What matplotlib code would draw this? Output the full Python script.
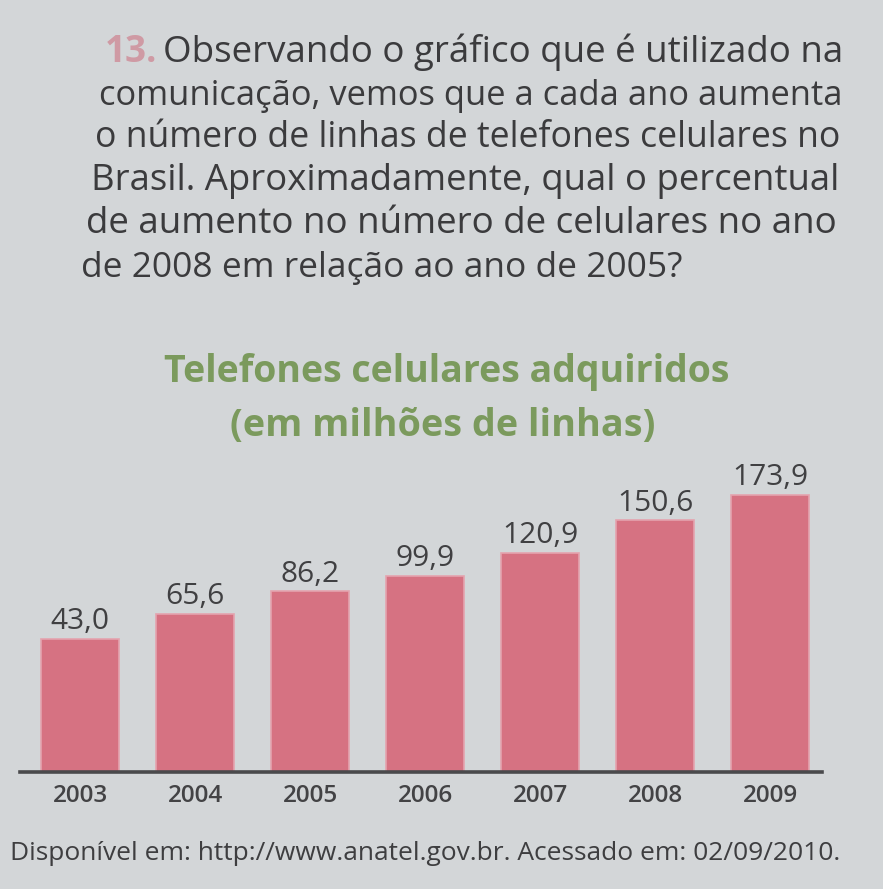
import matplotlib

matplotlib.use("Agg")
import matplotlib.pyplot as plt
import numpy as np

# data
years = ["2003", "2004", "2005", "2006", "2007", "2008", "2009"]
values = [43.0, 65.6, 86.2, 99.9, 120.9, 150.6, 173.9]

question_number = "13."
question_lines = [
    "Observando o gráfico que é utilizado na",
    "comunicação, vemos que a cada ano aumenta",
    "o número de linhas de telefones celulares no",
    "Brasil. Aproximadamente, qual o percentual",
    "de aumento no número de celulares no ano",
    "de 2008 em relação ao ano de 2005?",
]
title_lines = ["Telefones celulares adquiridos", "(em milhões de linhas)"]
source_head = "Disponível em: http://www.anatel.gov.br."
source_tail = " Acessado em: 02/09/2010."

# layout (pixels, origin top-left)
W, H = 883, 889
BG = "#d3d6d8"
TEXT = "#3b3b3d"
PINK = "#d67282"
GREEN = "#7b9a5d"
FONT = ["Open Sans", "DejaVu Sans"]
BAR_BASE = -78  # bars in the source are not drawn from zero

# (left, right, baseline) for each question line
q_pos = [(163, 843, 62), (99, 843, 105), (95, 842, 147),
         (91, 838, 190), (86, 837, 233), (81, 683, 277)]


def fx(x):
    return x / W


def fy(y):
    return 1 - y / H


fig = plt.figure(figsize=(W / 100, H / 100), dpi=100, facecolor=BG)
renderer = fig.canvas.get_renderer()


def fit_width(t, target):
    for _ in range(3):
        w = t.get_window_extent(renderer).width
        t.set_fontsize(t.get_fontsize() * target / w)
    return t.get_fontsize()


# question text
sizes = []
for line, (left, right, base) in zip(question_lines, q_pos):
    t = fig.text(fx(left), fy(base), line, family=FONT, fontsize=22,
                 color=TEXT, va="baseline", ha="left")
    sizes.append(fit_width(t, right - left))
fig.text(fx(105), fy(62), question_number, family=FONT, fontsize=sizes[0],
         fontweight="bold", color="#cf9aa4", va="baseline", ha="left")

# title
for line, (cx, base, width) in zip(title_lines,
                                   [(447, 382, 566), (443, 436, 425)]):
    t = fig.text(fx(cx), fy(base), line, family=FONT, fontsize=20,
                 fontweight="bold", color=GREEN, va="baseline", ha="center")
    fit_width(t, width)

# bars
ax_left, ax_right, ax_top, ax_bottom = 20, 822, 470, 772
ax = fig.add_axes([fx(ax_left), fy(ax_bottom), (ax_right - ax_left) / W,
                   (ax_bottom - ax_top) / H])
ax.set_facecolor("none")
x = np.arange(len(years))
heights = np.array(values) - BAR_BASE
ax.bar(x, heights, bottom=BAR_BASE, width=0.68, color=PINK,
       edgecolor="#e4a3ae", linewidth=1.2)
ax.set_xlim(-0.522, 6.452)
ax.set_ylim(BAR_BASE, 196.5)
ax.axhline(BAR_BASE, color="#4a4a4c", lw=2.6, clip_on=False)
for s in ax.spines.values():
    s.set_visible(False)
ax.set_xticks([])
ax.set_yticks([])

for i, v in enumerate(values):
    ax.annotate(f"{v:.1f}".replace(".", ","), (i, v), xytext=(0, 2),
                textcoords="offset points", ha="center", va="bottom",
                family=FONT, fontsize=21.5, color="#404042")
    ax.annotate(years[i], (i, BAR_BASE), xytext=(0, -9),
                textcoords="offset points", ha="center", va="top",
                family=FONT, fontsize=17.5, fontweight="semibold",
                color="#434345", annotation_clip=False)

# source line
src = fig.text(fx(10), fy(860), source_head, family=FONT,
               fontsize=20, color="#3e3e40", va="baseline", ha="left")
fit_width(src, 500)
src.set_text(source_head + source_tail)

fig.savefig("out.png", dpi=100, facecolor=BG)
